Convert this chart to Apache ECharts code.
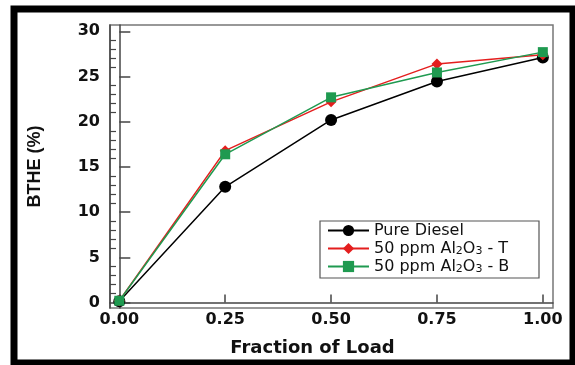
<!DOCTYPE html>
<html>
<head>
<meta charset="utf-8">
<script src="https://cdn.jsdelivr.net/npm/echarts@6/dist/echarts.min.js"></script>
<style>html,body{margin:0;padding:0;background:#fff}#c{width:575px;height:365px}</style>
</head>
<body>
<div id="c"></div>
<script>
var loads = [0, 0.25, 0.5, 0.75, 1.0];
var pureDiesel = [0.15, 12.8, 20.2, 24.45, 27.1];
var al2o3T = [0.2, 16.8, 22.2, 26.4, 27.4];
var al2o3B = [0.2, 16.4, 22.7, 25.45, 27.7];
var seriesNames = ['Pure Diesel', '50 ppm Al2O3 - T', '50 ppm Al2O3 - B'];
var xTicks = [0, 0.25, 0.5, 0.75, 1.0];
var yTicks = [0, 5, 10, 15, 20, 25, 30];
var yMinorTicks = [];
for (var v = 0; v <= 30; v += 1) if (v % 5 !== 0) yMinorTicks.push(v);

function pairs(ys) { return loads.map(function (x, i) { return [x, ys[i]]; }); }

var chart = echarts.init(document.getElementById('c'), null, {renderer: 'canvas'});
var axisColor = '#444';
var tickFont = {fontFamily: 'DejaVu Sans', fontWeight: 'bold', fontSize: 16, color: '#111'};
var yBase = {
  type: 'value', min: -0.6, max: 30.7, position: 'left',
  splitLine: {show: false},
  axisLine: {show: true, lineStyle: {color: axisColor, width: 1.5}}
};
var option = {
  animation: false,
  backgroundColor: '#fff',
  grid: {left: 110, right: 22, top: 25, bottom: 57, show: true, borderColor: '#777', borderWidth: 1.5, backgroundColor: 'transparent'},
  xAxis: {
    type: 'value', min: -0.022, max: 1.024,
    name: 'Fraction of Load', nameLocation: 'middle', nameGap: 31,
    nameTextStyle: {fontFamily: 'DejaVu Sans', fontWeight: 'bold', fontSize: 18, color: '#111', padding: [0, 38, 0, 0]},
    splitLine: {show: false},
    axisLine: {show: true, lineStyle: {color: axisColor, width: 1.5}},
    axisTick: {show: true, inside: true, length: 8, customValues: xTicks, lineStyle: {color: axisColor, width: 1.5}},
    axisLabel: Object.assign({margin: 4, customValues: xTicks, formatter: function (v) { return v.toFixed(2); }}, tickFont)
  },
  yAxis: [
    Object.assign({}, yBase, {
      name: 'BTHE (%)', nameLocation: 'middle', nameGap: 66, nameRotate: 90,
      nameTextStyle: {fontFamily: 'Liberation Sans', fontWeight: 'bold', fontSize: 18, color: '#111'},
      axisTick: {show: true, inside: true, length: 11, customValues: yTicks, lineStyle: {color: axisColor, width: 1.5}},
      axisLabel: Object.assign({margin: 10, customValues: yTicks}, tickFont)
    }),
    Object.assign({}, yBase, {
      axisTick: {show: true, inside: true, length: 6, customValues: yMinorTicks, lineStyle: {color: axisColor, width: 1.2}},
      axisLabel: {show: false}
    })
  ],
  legend: {
    left: 321, top: 219,
    orient: 'vertical', align: 'left',
    borderWidth: 0,
    padding: [3, 6, 3, 6], itemGap: 1, itemWidth: 41, itemHeight: 14,
    data: seriesNames,
    formatter: function (name) {
      return name.replace('Al2O3', 'Al{sub|2}O{sub|3}');
    },
    textStyle: {
      fontFamily: 'DejaVu Sans', fontSize: 16, color: '#111', lineHeight: 17,
      rich: {sub: {fontFamily: 'DejaVu Sans', fontSize: 11, lineHeight: 17, verticalAlign: 'bottom', padding: [4, 0, 0, 0]}}
    }
  },
  graphic: [{
    type: 'rect', silent: true, z: 100,
    shape: {x: 14, y: 9, width: 559, height: 354},
    style: {fill: 'none', stroke: '#000', lineWidth: 7}
  }, {
    type: 'rect', silent: true, z: 0,
    shape: {x: 320, y: 221, width: 219, height: 57},
    style: {fill: '#fff', stroke: '#555', lineWidth: 1.2}
  }],
  series: [
    {name: seriesNames[0], type: 'line', data: pairs(pureDiesel), symbol: 'circle', symbolSize: 12,
     lineStyle: {color: '#000', width: 1.5}, itemStyle: {color: '#000'}, z: 2},
    {name: seriesNames[1], type: 'line', data: pairs(al2o3T), symbol: 'diamond', symbolSize: 11,
     lineStyle: {color: '#e41e1e', width: 1.5}, itemStyle: {color: '#e41e1e'}, z: 3},
    {name: seriesNames[2], type: 'line', data: pairs(al2o3B), symbol: 'rect', symbolSize: 10,
     lineStyle: {color: '#1f9a50', width: 1.5}, itemStyle: {color: '#1f9a50'}, z: 4}
  ]
};
chart.setOption(option);
</script>
</body>
</html>
